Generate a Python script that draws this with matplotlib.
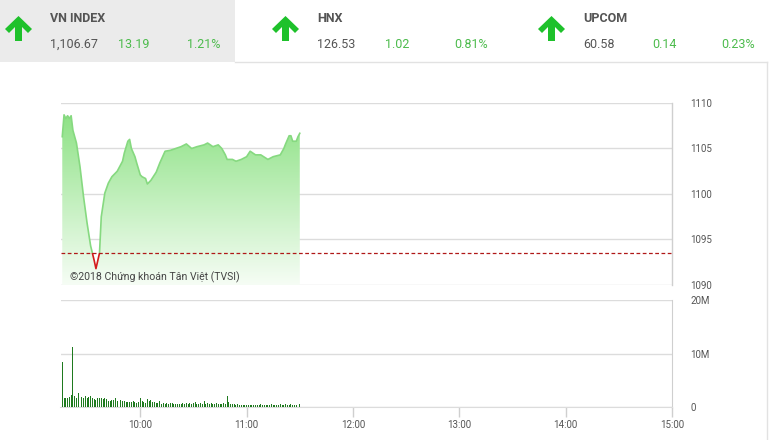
import matplotlib
matplotlib.use("Agg")
import matplotlib.pyplot as plt
import numpy as np
from matplotlib.patches import Polygon, Rectangle
from matplotlib import font_manager as fm

# ---------------- data ----------------
index_names = ["VN INDEX", "HNX", "UPCOM"]
index_values = ["1,106.67", "126.53", "60.58"]
index_changes = ["13.19", "1.02", "0.14"]
index_pcts = ["1.21%", "0.81%", "0.23%"]

ref_price = 1093.48

price_times = ["09:16", "09:17", "09:18", "09:19", "09:20", "09:21", "09:22", "09:24",
               "09:26", "09:28", "09:30", "09:32", "09:34", "09:35", "09:37", "09:38",
               "09:40", "09:42", "09:44", "09:47", "09:50", "09:51", "09:53", "09:54",
               "09:55", "09:57", "09:58", "10:00", "10:01", "10:03", "10:04", "10:06",
               "10:08", "10:09", "10:11", "10:14", "10:17", "10:20", "10:23", "10:26",
               "10:29", "10:32", "10:36", "10:38", "10:41", "10:44", "10:46", "10:48",
               "10:49", "10:52", "10:54", "10:57", "11:00", "11:02", "11:05", "11:08",
               "11:12", "11:15", "11:19", "11:21", "11:22", "11:24", "11:25", "11:26",
               "11:28", "11:29", "11:30"]
price_values = [1106.3, 1108.7, 1108.3, 1108.6, 1108.3, 1108.6, 1107.0, 1105.6,
                1103.0, 1099.7, 1096.8, 1094.3, 1092.7, 1091.8, 1093.5, 1097.5,
                1100.1, 1101.2, 1101.9, 1102.5, 1103.6, 1104.5, 1105.8, 1106.0,
                1105.0, 1104.1, 1103.4, 1102.1, 1101.9, 1101.7, 1101.1, 1101.5,
                1102.1, 1102.4, 1103.4, 1104.7, 1104.8, 1105.0, 1105.2, 1105.5,
                1105.0, 1105.2, 1105.4, 1105.6, 1105.2, 1105.4, 1105.0, 1104.3,
                1103.8, 1103.8, 1103.6, 1103.8, 1104.1, 1104.7, 1104.3, 1104.3,
                1103.8, 1104.1, 1104.3, 1105.0, 1105.5, 1106.4, 1106.4, 1105.8,
                1105.8, 1106.3, 1106.67]

volume_start = "09:16"  # one bar per minute from here
volume_millions = [8.4, 1.7, 1.7, 1.7, 1.8, 2.3, 11.3, 2.1, 1.7, 2.6,
                   2.0, 1.9, 1.7, 2.0, 1.7, 1.9, 2.1, 1.7, 1.5, 1.4,
                   1.6, 1.6, 1.6, 1.5, 1.6, 1.5, 1.1, 1.1, 1.4, 1.4,
                   1.7, 1.1, 2.1, 1.4, 1.1, 1.1, 1.0, 0.9, 1.0, 0.9,
                   1.1, 0.9, 0.8, 1.0, 1.6, 1.2, 1.0, 0.8, 1.5, 1.1,
                   1.3, 0.9, 1.0, 0.7, 0.8, 1.2, 0.6, 0.7, 0.6, 0.7,
                   0.6, 0.8, 0.7, 0.6, 0.5, 0.6, 0.6, 0.5, 0.7, 0.6,
                   0.7, 0.6, 0.8, 0.6, 0.7, 0.9, 0.6, 0.5, 0.7, 0.6,
                   1.1, 0.6, 0.7, 0.6, 0.7, 0.6, 0.5, 0.7, 0.6, 0.5,
                   0.5, 0.7, 0.6, 2.0, 0.9, 0.6, 0.6, 0.5, 0.4, 0.5,
                   0.4, 0.4, 0.3, 0.4, 0.4, 0.3, 0.3, 0.4, 0.3, 0.4,
                   0.4, 0.3, 0.6, 0.4, 0.3, 0.4, 0.4, 0.3, 0.5, 0.4,
                   0.3, 0.3, 0.4, 0.5, 0.3, 0.4, 0.5, 0.4, 0.4, 0.5,
                   0.4, 0.4, 0.3, 0.4, 0.5]

price_ticks = [1090, 1095, 1100, 1105, 1110]
volume_ticks = [0, 10e6, 20e6]
volume_tick_labels = ["0", "10M", "20M"]
time_ticks = ["10:00", "11:00", "12:00", "13:00", "14:00", "15:00"]
x_start, x_end = "09:15", "15:00"
copyright_text = "©2018 Chứng khoán Tân Việt (TVSI)"


def to_h(s):
    h, m = s.split(":")
    return int(h) + int(m) / 60.0


# ---------------- fonts ----------------
def has_font(name):
    try:
        fm.findfont(fm.FontProperties(family=name), fallback_to_default=False)
        return True
    except Exception:
        return False

narrow = "Liberation Sans Narrow" if has_font("Liberation Sans Narrow") else "Roboto"
plt.rcParams["font.family"] = ["Roboto", "DejaVu Sans"]

W, H = 769, 440
fig = plt.figure(figsize=(W / 100, H / 100), dpi=100)
fig.patch.set_facecolor("white")


def fx(px):
    return px / W


def fy(py):
    return 1 - py / H


# ---------------- header ----------------
fig.patches.append(Rectangle((0, fy(62)), fx(235), 62 / H, transform=fig.transFigure,
                             facecolor="#ebebeb", edgecolor="none", zorder=0))
fig.add_artist(plt.Line2D([fx(235), fx(767)], [fy(62), fy(62)], transform=fig.transFigure,
                          color="#e2e2e2", lw=1))
fig.add_artist(plt.Line2D([fx(767), fx(767)], [fy(62), fy(440)], transform=fig.transFigure,
                          color="#e2e2e2", lw=1))

arrow_x = [5, 272, 538]
text_x = [50, 317, 583]
chg_x = [118, 385, 652]
pct_x = [187, 454, 721]
green = "#4cbb4c"
hsize = 9.5 if narrow != "Roboto" else 9
for i in range(3):
    ax0 = arrow_x[i]
    pts = [(13.5, 16), (27, 29), (23, 33), (17, 27), (17, 41), (10, 41), (10, 27), (4, 33), (0, 29)]
    poly = Polygon([(fx(ax0 + p[0]), fy(p[1])) for p in pts], closed=True,
                   transform=fig.transFigure, facecolor="#1ec12b", edgecolor="none")
    fig.patches.append(poly)
    fig.text(fx(text_x[i]), fy(18.5), index_names[i], family=[narrow, "Roboto"], weight="bold",
             fontsize=hsize, color="#555555", va="center", ha="left")
    fig.text(fx(text_x[i]), fy(44.5), index_values[i], family=[narrow, "Roboto"],
             fontsize=hsize, color="#555555", va="center", ha="left")
    fig.text(fx(chg_x[i]), fy(44.5), index_changes[i], family=[narrow, "Roboto"],
             fontsize=hsize, color=green, va="center", ha="left")
    fig.text(fx(pct_x[i]), fy(44.5), index_pcts[i], family=[narrow, "Roboto"],
             fontsize=hsize, color=green, va="center", ha="left")

# ---------------- price axes ----------------
left, right = 60.5, 672
ax = fig.add_axes([fx(left), fy(285), fx(right - left), (285 - 103) / H])
tx = np.array([to_h(t) for t in price_times])
py = np.array(price_values)
x0, x1 = to_h(x_start), to_h(x_end)
ax.set_xlim(x0, x1)
ax.set_ylim(price_ticks[0], price_ticks[-1])

# gradient fill under the line
top = np.array([135, 224, 126]) / 255.0
bot = np.array([246, 253, 245]) / 255.0
n = 256
frac = np.linspace(0, 1, n)[:, None]
grad = (bot * (1 - frac) + top * frac)[:, None, :]
im = ax.imshow(grad, extent=[x0, x1, price_ticks[0], price_ticks[-1]], aspect="auto",
               origin="lower", zorder=1, interpolation="bilinear")
poly = ax.fill_between(tx, py, price_ticks[0], color="none", lw=0)
path = poly.get_paths()[0]
im.set_clip_path(path, transform=ax.transData)

above = Rectangle((x0, ref_price), x1 - x0, 100, transform=ax.transData)
below = Rectangle((x0, price_ticks[0] - 100), x1 - x0, ref_price - price_ticks[0] + 100,
                  transform=ax.transData)
lg, = ax.plot(tx, py, color="#86d980", lw=1.2, zorder=3)
lg.set_clip_path(above)
lr, = ax.plot(tx, py, color="#d41b1b", lw=1.2, zorder=3)
lr.set_clip_path(below)

ax.axhline(ref_price, color="#b01818", lw=0.9, ls=(0, (3, 2)), zorder=4)

ax.set_yticks(price_ticks)
ax.yaxis.tick_right()
ax.tick_params(axis="y", length=0, pad=13, labelsize=7, labelcolor="#555555")
ax.set_xticks([])
for p in price_ticks:
    ax.axhline(p, color="#dcdcdc", lw=1, zorder=0.5)
for s in ["left", "top", "bottom"]:
    ax.spines[s].set_visible(False)
ax.spines["right"].set_color("#cfcfcf")
ax.spines["right"].set_linewidth(1)
ax.set_facecolor("none")

ax.text((70 - left) / (right - left), (285 - 277) / (285 - 103),
        copyright_text, transform=ax.transAxes, fontsize=7.6, color="#444444",
        va="center", ha="left", zorder=5)

# ---------------- volume axes ----------------
axv = fig.add_axes([fx(left), fy(407), fx(right - left), (407 - 300) / H])
vt = to_h(volume_start) + np.arange(len(volume_millions)) / 60.0
axv.bar(vt, np.array(volume_millions) * 1e6, width=0.55 / 60, color="#1f7a1f",
        align="center", zorder=3)
axv.set_xlim(x0, x1)
axv.set_ylim(volume_ticks[0], volume_ticks[-1])
axv.set_yticks(volume_ticks)
axv.set_yticklabels(volume_tick_labels)
axv.yaxis.tick_right()
axv.tick_params(axis="y", length=0, pad=13, labelsize=7, labelcolor="#555555")
axv.set_xticks([to_h(t) for t in time_ticks])
axv.set_xticklabels(time_ticks)
axv.tick_params(axis="x", length=7, width=1, color="#cfcfcf", labelsize=7,
                labelcolor="#555555", pad=2)
for v in volume_ticks:
    axv.axhline(v, color="#dcdcdc", lw=1, zorder=0.5)
for s in ["left", "top"]:
    axv.spines[s].set_visible(False)
axv.spines["bottom"].set_color("#dcdcdc")
axv.spines["right"].set_color("#cfcfcf")
axv.set_facecolor("none")

fig.savefig("out.png", dpi=100, facecolor="white")
